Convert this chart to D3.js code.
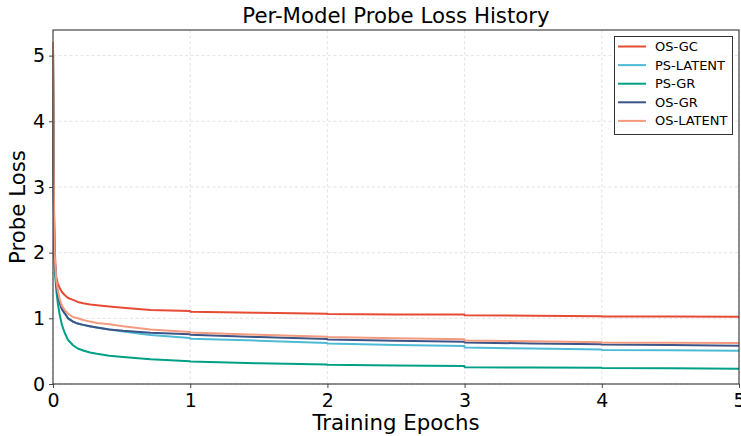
<!DOCTYPE html>
<html><head><meta charset="utf-8">
<script src="https://cdn.jsdelivr.net/npm/d3@7"></script>
<style>body{margin:0;background:#fff}svg{display:block;font-family:"DejaVu Sans",sans-serif}</style>
</head><body><svg id="c" width="741" height="436"></svg>
<script>
const epochs = [0, 0.004, 0.008, 0.012, 0.018, 0.024, 0.035, 0.049, 0.065, 0.085, 0.11, 0.146, 0.18, 0.22, 0.27, 0.32, 0.41, 0.51, 0.71, 0.999, 1.0, 1.5, 1.999, 2.0, 2.5, 2.999, 3.0, 3.5, 3.999, 4.0, 4.5, 5.0];
const osGC     = [5.2, 3.6, 2.6, 2.1, 1.8, 1.63, 1.53, 1.46, 1.40, 1.355, 1.31, 1.28, 1.25, 1.23, 1.21, 1.20, 1.18, 1.16, 1.128, 1.11, 1.10, 1.085, 1.07, 1.065, 1.06, 1.057, 1.045, 1.04, 1.033, 1.028, 1.027, 1.025];
const psLATENT = [5.1, 3.4, 2.4, 1.95, 1.7, 1.53, 1.38, 1.24, 1.14, 1.07, 1.0, 0.95, 0.92, 0.90, 0.875, 0.86, 0.83, 0.80, 0.746, 0.70, 0.69, 0.66, 0.625, 0.615, 0.595, 0.578, 0.555, 0.54, 0.525, 0.517, 0.512, 0.507];
const psGR     = [5.15, 3.3, 2.2, 1.8, 1.6, 1.43, 1.23, 1.05, 0.90, 0.78, 0.67, 0.59, 0.54, 0.51, 0.48, 0.46, 0.43, 0.41, 0.375, 0.347, 0.343, 0.315, 0.296, 0.292, 0.282, 0.274, 0.256, 0.25, 0.246, 0.243, 0.238, 0.233];
const osGR     = [5.1, 3.4, 2.4, 1.95, 1.7, 1.53, 1.36, 1.23, 1.14, 1.08, 1.0, 0.95, 0.92, 0.90, 0.88, 0.86, 0.83, 0.81, 0.78, 0.757, 0.75, 0.715, 0.685, 0.678, 0.66, 0.645, 0.63, 0.618, 0.607, 0.602, 0.592, 0.583];
const osLATENT = [5.2, 3.5, 2.5, 2.0, 1.75, 1.58, 1.42, 1.29, 1.19, 1.13, 1.07, 1.02, 1.0, 0.975, 0.95, 0.93, 0.91, 0.88, 0.83, 0.79, 0.785, 0.75, 0.72, 0.715, 0.695, 0.68, 0.663, 0.65, 0.637, 0.633, 0.628, 0.624];
const seriesNames = ["OS-GC", "PS-LATENT", "PS-GR", "OS-GR", "OS-LATENT"];
const seriesColors = ["#E64B35", "#4DBBD5", "#00A087", "#3C5488", "#F39B7F"];
const xTicks = [0, 1, 2, 3, 4, 5];
const yTicks = [0, 1, 2, 3, 4, 5];

const series = [osGC, psLATENT, psGR, osGR, osLATENT];
const svg = d3.select("#c");
const m = {l: 53, r: 2, t: 30, b: 52};
const W = 741, H = 436;
const x = d3.scaleLinear().domain([0, 5]).range([m.l, W - m.r]);
const y = d3.scaleLinear().domain([0, 5.39]).range([H - m.b, m.t]);

// grid
const g = svg.append("g");
g.selectAll(".vg").data(xTicks).join("line")
  .attr("x1", d => x(d)).attr("x2", d => x(d)).attr("y1", m.t).attr("y2", H - m.b)
  .attr("stroke", "#dcdcdc").attr("stroke-width", 0.8).attr("stroke-dasharray", "3,2.5");
g.selectAll(".hg").data(yTicks).join("line")
  .attr("x1", m.l).attr("x2", W - m.r).attr("y1", d => y(d)).attr("y2", d => y(d))
  .attr("stroke", "#dcdcdc").attr("stroke-width", 0.8).attr("stroke-dasharray", "3,2.5");

// lines
const line = d3.line().x((d, i) => x(epochs[i])).y(d => y(d));
svg.append("g").selectAll("path").data(series).join("path")
  .attr("d", d => line(d)).attr("fill", "none")
  .attr("stroke", (d, i) => seriesColors[i]).attr("stroke-width", 2)
  .attr("stroke-linejoin", "round");

// axes
const xa = svg.append("g").attr("transform", `translate(0,${H - m.b})`)
  .call(d3.axisBottom(x).tickValues(xTicks).tickFormat(d3.format("d")).tickSizeOuter(0).tickSize(4));
const ya = svg.append("g").attr("transform", `translate(${m.l},0)`)
  .call(d3.axisLeft(y).tickValues(yTicks).tickFormat(d3.format("d")).tickSizeOuter(0).tickSize(4));
[xa, ya].forEach(a => {
  a.select(".domain").remove();
  a.selectAll("text").attr("font-family", "DejaVu Sans").attr("font-size", 19).attr("fill", "#000");
  a.selectAll("line").attr("stroke", "#333").attr("stroke-width", 0.9);
});
xa.selectAll("text").attr("dy", "0.85em");
ya.selectAll("text").attr("dx", "-1px");

// frame
svg.append("rect").attr("x", m.l).attr("y", m.t).attr("width", W - m.r - m.l).attr("height", H - m.b - m.t)
  .attr("fill", "none").attr("stroke", "#333").attr("stroke-width", 1.1);

// labels
svg.append("text").attr("x", (m.l + W - m.r) / 2).attr("y", 23).attr("text-anchor", "middle")
  .attr("font-size", 21.3).text("Per-Model Probe Loss History");
svg.append("text").attr("x", (m.l + W - m.r) / 2).attr("y", 430).attr("text-anchor", "middle")
  .attr("font-size", 21.3).text("Training Epochs");
svg.append("text").attr("transform", `translate(24.5,${(m.t + H - m.b) / 2}) rotate(-90)`).attr("text-anchor", "middle")
  .attr("font-size", 21.3).text("Probe Loss");

// legend
const lg = svg.append("g");
lg.append("rect").attr("x", 614.5).attr("y", 36.5).attr("width", 118).attr("height", 98)
  .attr("fill", "#fff").attr("fill-opacity", 0.8).attr("stroke", "#333").attr("stroke-width", 1);
seriesNames.forEach((n, i) => {
  const yy = 46.5 + i * 18.6;
  lg.append("line").attr("x1", 618).attr("x2", 646).attr("y1", yy).attr("y2", yy)
    .attr("stroke", seriesColors[i]).attr("stroke-width", 2);
  lg.append("text").attr("x", 655).attr("y", yy).attr("dy", "0.35em").attr("font-size", 13).text(n);
});
</script></body></html>
